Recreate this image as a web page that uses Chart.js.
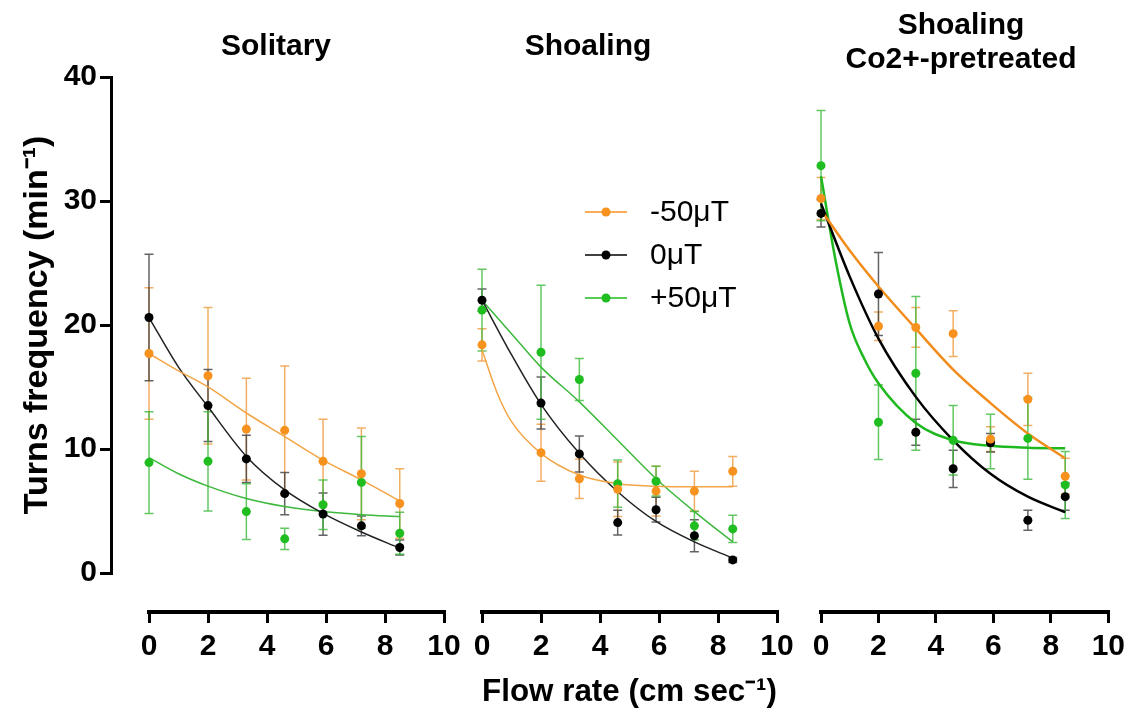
<!DOCTYPE html>
<html>
<head>
<meta charset="utf-8">
<script src="https://cdn.jsdelivr.net/npm/chart.js@4.4.0/dist/chart.umd.min.js"></script>
<style>
  body { margin: 0; background: #fff; }
  #wrap { position: relative; width: 1131px; height: 722px; overflow: hidden; }
  canvas { position: absolute; top: 0; }
</style>
</head>
<body>
<div id="wrap">
  <canvas id="yAxis" width="125" height="722" style="left:0px"></canvas>
  <canvas id="solitary" width="370" height="722" style="left:100px"></canvas>
  <canvas id="shoaling" width="410" height="722" style="left:390px"></canvas>
  <canvas id="cobalt" width="331" height="722" style="left:800px"></canvas>
</div>
<script>
// FLOW RATES OF THE MEASURED POINTS

const flowRate = [0, 2, 3.3, 4.6, 5.9, 7.2, 8.5];

const seriesLabels = ["-50μT", "0μT", "+50μT"];

const yTicks = [0, 10, 20, 30, 40];
const xTicks = [0, 2, 4, 6, 8, 10];


// SOLITARY (mean, sem)

const solitaryMinus50 = [17.7, 15.9, 11.6, 11.5, 9.0, 8.0, 5.6];
const solitaryMinus50Sem = [5.3, 5.5, 4.1, 5.2, 3.4, 3.7, 2.8];
const solitaryZero = [20.6, 13.5, 9.2, 6.4, 4.75, 3.8, 2.05];
const solitaryZeroSem = [5.1, 2.9, 1.9, 1.7, 1.7, 0.8, 0.6];
const solitaryPlus50 = [8.9, 9.0, 4.95, 2.75, 5.5, 7.3, 3.2];
const solitaryPlus50Sem = [4.1, 4.0, 2.25, 0.85, 2.0, 3.7, 1.7];

// SHOALING

const shoalingMinus50 = [18.4, 9.7, 7.6, 6.75, 6.6, 6.6, 8.2];
const shoalingMinus50Sem = [1.3, 2.3, 1.6, 2.2, 2.0, 1.6, 1.2];
const shoalingZero = [22.0, 13.7, 9.6, 4.06, 5.1, 3.0, 1.05];
const shoalingZeroSem = [0.9, 2.1, 1.45, 1.0, 1.0, 1.3, 0.2];
const shoalingPlus50 = [21.2, 17.8, 15.6, 7.2, 7.4, 3.8, 3.55];
const shoalingPlus50Sem = [3.3, 5.4, 1.7, 1.9, 1.2, 1.15, 1.1];

// SHOALING, Co2+-PRETREATED

const cobaltMinus50 = [30.2, 19.9, 19.8, 19.3, 10.8, 14.0, 7.8];
const cobaltMinus50Sem = [1.7, 1.15, 1.6, 1.85, 1.0, 2.1, 1.45];
const cobaltZero = [29.0, 22.5, 11.35, 8.4, 10.5, 4.25, 6.15];
const cobaltZeroSem = [1.1, 3.35, 1.05, 1.5, 0.75, 0.8, 1.1];
const cobaltPlus50 = [32.85, 12.15, 16.1, 10.7, 10.6, 10.85, 7.1];
const cobaltPlus50Sem = [4.45, 3.0, 6.2, 2.8, 2.2, 3.3, 2.7];


// FITTED DECAY CURVES

const fitX = [0, 1, 2, 3.3, 4.6, 5.9, 7.2, 8.5];
const fitXSteep = [0, 0.5, 1, 2, 3.3, 4.6, 5.9, 7.2, 8.5];
const fitXSteeper = [0, 0.5, 1, 1.5, 2, 3.3, 4.6, 5.9, 7.2, 8.5];

const solitaryMinus50Fit = [17.7, 16.3, 15.0, 12.9, 11.0, 9.1, 7.5, 5.8];
const solitaryZeroFit = [20.6, 16.6, 13.4, 9.4, 6.7, 4.8, 3.3, 2.0];
const solitaryPlus50Fit = [9.3, 8.0, 7.0, 6.0, 5.35, 4.95, 4.7, 4.55];

const shoalingMinus50Fit = [18.0, 14.6, 12.2, 9.65, 7.9, 7.2, 7.0, 6.95, 6.95];
const shoalingZeroFit = [22.0, 17.6, 13.6, 9.65, 6.55, 4.15, 2.5, 1.2];
const shoalingPlus50Fit = [22.0, 19.3, 16.6, 13.8, 10.7, 7.6, 4.95, 2.5];

const cobaltMinus50Fit = [29.3, 26.0, 23.1, 19.7, 16.4, 13.7, 11.25, 9.25];
const cobaltZeroFit = [29.8, 23.9, 18.9, 14.2, 10.7, 8.0, 6.15, 4.9];
const cobaltPlus50Fit = [32.0, 25.3, 20.1, 17.3, 15.3, 12.1, 10.7, 10.25, 10.1, 10.05];


// STYLE

const orange = "#f7921e";
const black = "#000000";
const green = "#1fbd1f";

const narrowBold = "'Liberation Sans Narrow', 'Arial Narrow', 'Liberation Sans', sans-serif";
const sansFont = "'Liberation Sans', Arial, sans-serif";

const yFloor = -3.15;   // gap between the 0 line and the detached x axis


// HELPERS

function toPoints(xs, ys) {
    return xs.map((x, i) => ({ x: x, y: ys[i] }));
}

function pointSet(label, ys, sem, color, errColor) {
    return {
        label: label,
        data: toPoints(flowRate, ys),
        sem: sem,
        errorColor: errColor,
        backgroundColor: color,
        borderWidth: 0,
        pointRadius: 4.5,
        showLine: false,
        clip: false,
        order: 1
    };
}

function fitSet(xs, ys, color, width) {
    return {
        label: "fit",
        data: toPoints(xs, ys),
        borderColor: color,
        borderWidth: width,
        pointRadius: 0,
        showLine: true,
        cubicInterpolationMode: "monotone",
        clip: false,
        order: 2
    };
}


// ERROR BARS

const errorBarPlugin = {
    id: "errorBars",
    beforeDatasetsDraw(chart) {
        const ctx = chart.ctx;
        const xs = chart.scales.x;
        const ys = chart.scales.y;
        chart.data.datasets.forEach(ds => {
            if (!ds.sem) return;
            ctx.save();
            ctx.strokeStyle = ds.errorColor;
            ctx.lineWidth = 1.5;
            ds.data.forEach((p, i) => {
                const px = xs.getPixelForValue(p.x);
                const top = ys.getPixelForValue(p.y + ds.sem[i]);
                const bot = ys.getPixelForValue(p.y - ds.sem[i]);
                ctx.beginPath();
                ctx.moveTo(px, top); ctx.lineTo(px, bot);
                ctx.moveTo(px - 4.5, top); ctx.lineTo(px + 4.5, top);
                ctx.moveTo(px - 4.5, bot); ctx.lineTo(px + 4.5, bot);
                ctx.stroke();
            });
            ctx.restore();
        });
    }
};


// LEGEND (line with dot, as in the figure)

const lineLegendPlugin = {
    id: "lineLegend",
    afterDraw(chart) {
        const ctx = chart.ctx;
        const left = chart.chartArea.left;
        const sets = chart.data.datasets.filter(ds => ds.sem);
        ctx.save();
        ctx.font = "30px " + sansFont;
        ctx.textBaseline = "middle";
        sets.forEach((ds, i) => {
            const y = 212 + i * 43;
            ctx.strokeStyle = ds.backgroundColor;
            ctx.lineWidth = 1.5;
            ctx.beginPath();
            ctx.moveTo(left + 103, y);
            ctx.lineTo(left + 145, y);
            ctx.stroke();
            ctx.fillStyle = ds.backgroundColor;
            ctx.beginPath();
            ctx.arc(left + 124, y, 4.5, 0, Math.PI * 2);
            ctx.fill();
            ctx.fillStyle = "#000";
            ctx.fillText(ds.label, left + 168, y + 1);
        });
        ctx.restore();
    }
};


// PANEL BUILDER

function panel(canvasId, p) {
    return new Chart(document.getElementById(canvasId), {
        type: "scatter",
        data: {
            datasets: [
                fitSet(p.fitXs[0], p.fits[0], p.fitColors[0], p.fitWidth),
                fitSet(p.fitXs[1], p.fits[1], p.fitColors[1], p.fitWidth),
                fitSet(p.fitXs[2], p.fits[2], p.fitColors[2], p.fitWidth),
                pointSet(seriesLabels[0], p.means[0], p.sems[0], orange, "rgba(240,160,70,0.85)"),
                pointSet(seriesLabels[1], p.means[1], p.sems[1], black, "rgba(60,60,60,0.8)"),
                pointSet(seriesLabels[2], p.means[2], p.sems[2], green, "rgba(60,185,60,0.8)")
            ]
        },
        options: {
            responsive: false,
            animation: false,
            events: [],
            layout: { padding: { left: p.padLeft, right: p.padRight, top: 0, bottom: 0 } },
            plugins: {
                legend: { display: false },
                tooltip: { enabled: false },
                title: {
                    display: true,
                    text: p.title,
                    color: "#000",
                    font: { family: sansFont, weight: "bold", size: 30, lineHeight: p.titleLine },
                    padding: p.titlePad
                }
            },
            scales: {
                x: {
                    type: "linear",
                    position: "bottom",
                    min: 0,
                    max: 10,
                    afterBuildTicks: s => { s.ticks = xTicks.map(v => ({ value: v })); },
                    ticks: {
                        color: "#000",
                        padding: 6,
                        maxRotation: 0,
                        font: { family: narrowBold, weight: "bold", size: 30 }
                    },
                    grid: { drawOnChartArea: false, drawTicks: true, tickLength: 11, lineWidth: 3, color: "#000" },
                    border: { display: true, width: 4, color: "#000" },
                    title: {
                        display: !!p.xTitle,
                        text: p.xTitle || "",
                        color: "#000",
                        font: { family: sansFont, weight: "bold", size: 32 },
                        padding: { top: 0, bottom: 11 }
                    },
                    afterFit: s => { s.height = 110; }
                },
                y: {
                    min: yFloor,
                    max: 40,
                    ticks: { display: false },
                    grid: { display: false },
                    border: { display: false },
                    afterFit: s => { s.width = p.spacer; }
                }
            }
        },
        plugins: p.legend ? [errorBarPlugin, lineLegendPlugin] : [errorBarPlugin]
    });
}


// Y AXIS (detached, drawn on its own)

new Chart(document.getElementById("yAxis"), {
    type: "scatter",
    data: { datasets: [] },
    options: {
        responsive: false,
        animation: false,
        events: [],
        layout: { padding: { left: 0, right: 0, top: 77, bottom: 149 } },
        plugins: { legend: { display: false }, tooltip: { enabled: false } },
        scales: {
            x: { display: false, min: 0, max: 10 },
            y: {
                min: 0,
                max: 40,
                afterBuildTicks: s => { s.ticks = yTicks.map(v => ({ value: v })); },
                ticks: {
                    color: "#000",
                    padding: 3,
                    font: { family: narrowBold, weight: "bold", size: 30 }
                },
                grid: { drawOnChartArea: false, drawTicks: true, tickLength: 11, lineWidth: 3, color: "#000" },
                border: { display: true, width: 3, color: "#000" },
                title: {
                    display: true,
                    text: "Turns frequency (min⁻¹)",
                    color: "#000",
                    font: { family: sansFont, weight: "bold", size: 34 },
                    padding: { top: 17, bottom: 0 }
                },
                afterFit: s => { s.width = 111; }
            }
        }
    }
});


// THE THREE PANELS

panel("solitary", {
    title: "Solitary",
    titleLine: 1.2,
    titlePad: { top: 29, bottom: 12 },
    padLeft: 8, padRight: 26, spacer: 41,
    means: [solitaryMinus50, solitaryZero, solitaryPlus50],
    sems: [solitaryMinus50Sem, solitaryZeroSem, solitaryPlus50Sem],
    fitXs: [fitX, fitX, fitX],
    fits: [solitaryMinus50Fit, solitaryZeroFit, solitaryPlus50Fit],
    fitColors: ["#f3a545", "#222222", "#3cb83c"],
    fitWidth: 1.5
});

panel("shoaling", {
    title: "Shoaling",
    titleLine: 1.2,
    titlePad: { top: 29, bottom: 12 },
    padLeft: 9, padRight: 23, spacer: 83,
    xTitle: "Flow rate (cm sec⁻¹)",
    legend: true,
    means: [shoalingMinus50, shoalingZero, shoalingPlus50],
    sems: [shoalingMinus50Sem, shoalingZeroSem, shoalingPlus50Sem],
    fitXs: [fitXSteep, fitX, fitX],
    fits: [shoalingMinus50Fit, shoalingZeroFit, shoalingPlus50Fit],
    fitColors: ["#f3a545", "#222222", "#3cb83c"],
    fitWidth: 1.5
});

panel("cobalt", {
    title: ["Shoaling", "Co2+-pretreated"],
    titleLine: 1.15,
    titlePad: { top: 8, bottom: 0 },
    padLeft: 13, padRight: 22, spacer: 8,
    means: [cobaltMinus50, cobaltZero, cobaltPlus50],
    sems: [cobaltMinus50Sem, cobaltZeroSem, cobaltPlus50Sem],
    fitXs: [fitX, fitX, fitXSteeper],
    fits: [cobaltMinus50Fit, cobaltZeroFit, cobaltPlus50Fit],
    fitColors: ["#f28c1c", "#000000", "#1fb81f"],
    fitWidth: 2.5
});
</script>
</body>
</html>
